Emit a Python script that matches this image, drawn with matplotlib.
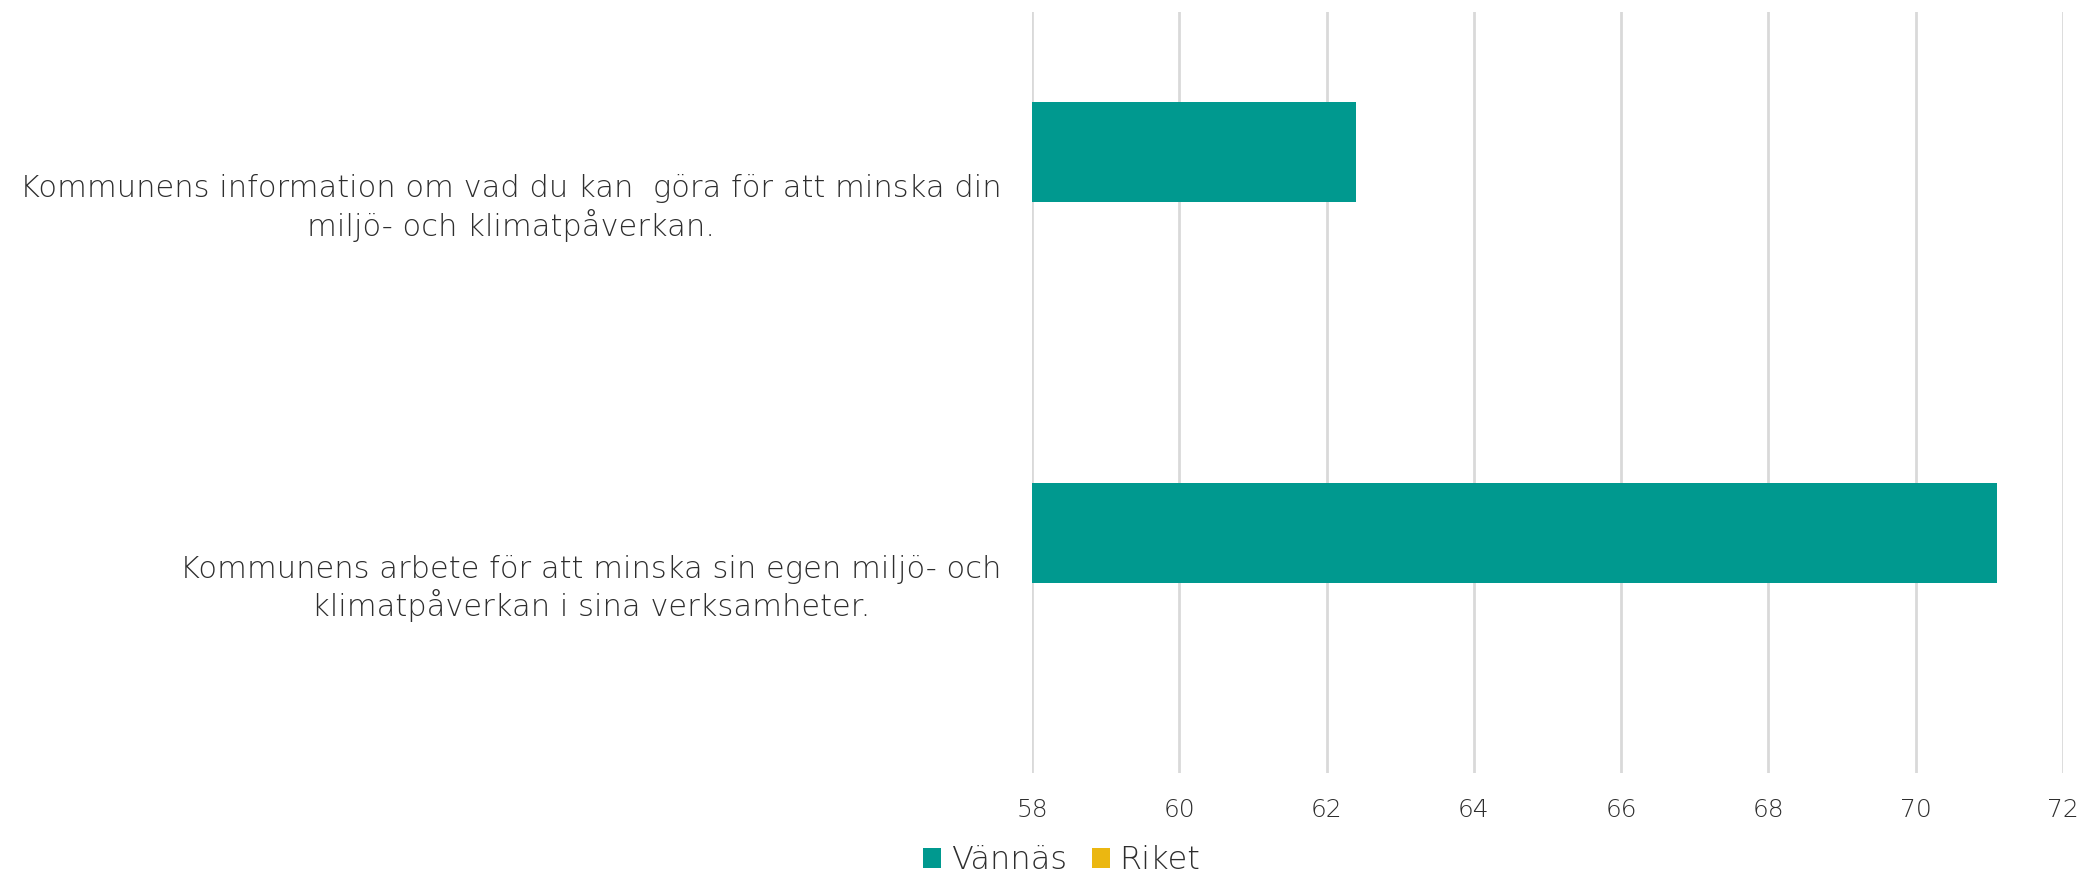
import numpy as np
import matplotlib.pyplot as plt

# data
categories = ["Kommunens information om vad du kan  göra för att minska din\nmiljö- och klimatpåverkan.",
              "Kommunens arbete för att minska sin egen miljö- och\nklimatpåverkan i sina verksamheter."]
vannas = [62.4, 71.1]
riket = [np.nan, np.nan]   # no values shown for Riket
series_names = ["Vännäs", "Riket"]
xticks = [58, 60, 62, 64, 66, 68, 70, 72]

teal = "#00998F"
gold = "#EBB711"
txt = "#2e2e2e"

plt.rcParams['font.family'] = ['DejaVu Sans']

fig = plt.figure(figsize=(20.82, 8.76), dpi=100)
ax = fig.add_axes([0.4957, 0.1176, 0.4952, 0.8687])

y = np.arange(len(categories))
h = 0.263
ax.barh(y - h / 2, [v - 58 for v in vannas], left=58, height=h, color=teal, label=series_names[0], zorder=3)
ax.barh(y + h / 2, riket, left=58, height=h, color=gold, label=series_names[1], zorder=3)

ax.set_xlim(58, 72)
ax.set_ylim(1.5, -0.5)
ax.set_xticks(xticks)
ax.set_xticklabels([str(t) for t in xticks], fontweight='light')
ax.set_yticks(y)
ax.set_yticklabels(categories, multialignment='center', linespacing=1.2, fontweight='light')

ax.grid(axis='x', color='#d9d9d9', linewidth=2, zorder=0)
for s in ax.spines.values():
    s.set_visible(False)
ax.tick_params(axis='y', length=0, pad=22, labelsize=22, labelcolor=txt)
ax.tick_params(axis='x', length=0, pad=18, labelsize=18, labelcolor=txt)

fig.legend(loc='center', bbox_to_anchor=(0.510, 0.018), ncol=2, frameon=False,
           labelcolor=txt, handlelength=0.55, handleheight=0.55,
           handletextpad=0.3, columnspacing=0.8, prop={'weight': 'light', 'size': 23})

fig.savefig("out.png", dpi=100)
